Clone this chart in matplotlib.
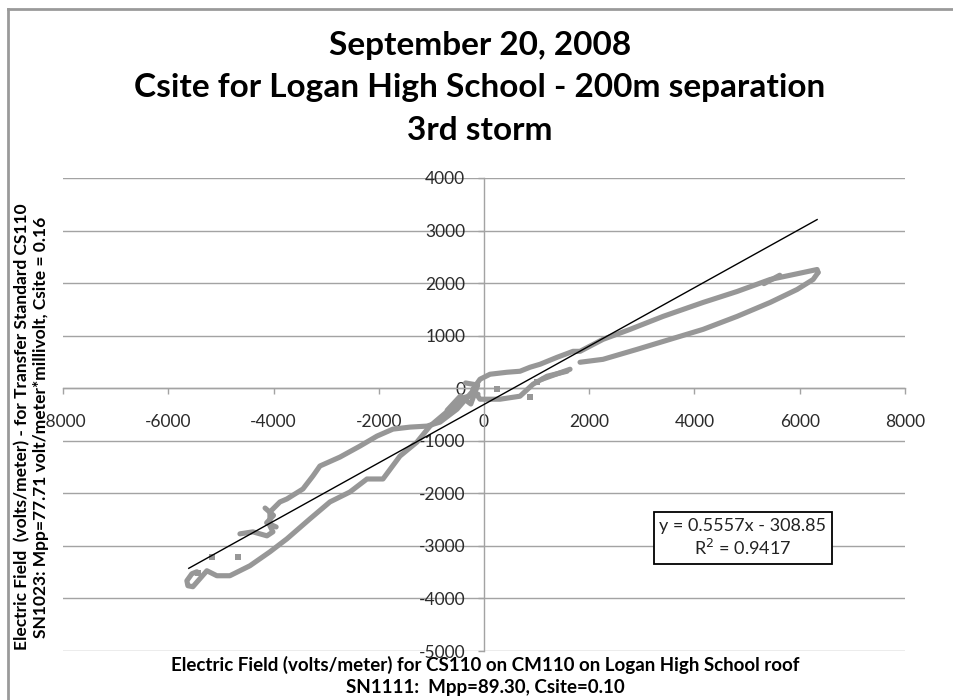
import matplotlib.pyplot as plt
from matplotlib.lines import Line2D
import numpy as np

plt.rcParams['font.family'] = ['Lato', 'DejaVu Sans']
plt.rcParams['axes.unicode_minus'] = False

# field samples, CS110 (x) against the transfer standard (y), in volts/meter.
# each run is a stretch of consecutive samples
upper_right_top = [(-209, -19), (-76, 171), (114, 266), (437, 304), (684, 323), (874, 399),
                   (1065, 456), (1388, 588), (1692, 702), (1825, 702), (2262, 930),
                   (2776, 1120), (3403, 1367), (4163, 1632), (4810, 1841), (5437, 2069),
                   (6064, 2202), (6330, 2259), (6349, 2202)]
upper_right_bottom = [(6349, 2202), (6254, 2069), (5950, 1879), (5437, 1632), (4810, 1367),
                      (4163, 1120), (3536, 930), (2909, 740), (2262, 550), (1825, 494)]
right_stub = [(5320, 1990), (5620, 2150)]
center_stub = [(1103, 171), (1350, 260), (1635, 361)]
center_lower = [(-209, -19), (-76, -209), (304, -209), (684, -152), (931, 76),
                (1198, 228), (1578, 323)]
left_upper = [(-133, 38), (-513, -399), (-836, -645), (-1084, -721), (-1407, -740),
              (-1730, -778), (-2034, -911), (-2357, -1101), (-2737, -1310), (-3118, -1480),
              (-3251, -1670), (-3441, -1917), (-3745, -2107), (-3878, -2164), (-4068, -2354),
              (-4068, -2619), (-4011, -2733), (-4125, -2809), (-4391, -2733), (-4638, -2771)]
left_cluster = [(-4160, -2280), (-4000, -2420), (-4130, -2560), (-3950, -2640)]
left_lower = [(-114, -114), (-361, -171), (-646, -399), (-1027, -721), (-1274, -1025),
              (-1597, -1291), (-1920, -1727), (-2224, -1727), (-2547, -1974), (-2928, -2164),
              (-3308, -2486), (-3745, -2866), (-4068, -3113), (-4448, -3378), (-4829, -3568),
              (-5076, -3568), (-5266, -3473), (-5399, -3625), (-5532, -3777), (-5627, -3758),
              (-5646, -3663), (-5551, -3530), (-5456, -3492)]
origin_cluster = [(-700, -420), (-450, -150), (-250, -300), (-120, 60), (-350, 100)]
loose_x = [-4676, -5171, -5437, 874, 247, 1008]
loose_y = [-3208, -3208, -3511, -171, -19, 114]

runs = [upper_right_top, upper_right_bottom, right_stub, center_stub, center_lower,
        left_upper, left_cluster, left_lower, origin_cluster]

# linear trend reported by the fit
slope = 0.5557
intercept = -308.85
r_squared = 0.9417
trend_x = np.array([-5610, 6330])

grey = '#979797'
axis_grey = '#a3a3a3'

fig = plt.figure(figsize=(9.54, 7.0), dpi=100)
W, H = 954, 700
ax = fig.add_axes([63 / W, 1 - 651 / H, (905 - 63) / W, (651 - 178) / H])

for run in runs:
    xs, ys = zip(*run)
    ax.plot(xs, ys, color=grey, lw=3.7, solid_capstyle='round',
            solid_joinstyle='round', zorder=3)
ax.scatter(loose_x, loose_y, marker='s', s=20, color=grey, lw=0, zorder=3)

ax.plot(trend_x, slope * trend_x + intercept, color='black', lw=1.0, zorder=4)

ax.set_xlim(-8000, 8000)
ax.set_ylim(-5000, 4000)
ax.set_xticks(np.arange(-8000, 8001, 2000))
ax.set_yticks(np.arange(-5000, 4001, 1000))
ax.yaxis.grid(True, color=axis_grey, lw=1.0)
ax.set_axisbelow(True)

for side in ['top', 'right']:
    ax.spines[side].set_visible(False)
ax.spines['left'].set_position(('data', 0))
ax.spines['bottom'].set_position(('data', 0))
for side in ['left', 'bottom']:
    ax.spines[side].set_color(axis_grey)
    ax.spines[side].set_linewidth(1.0)

ax.tick_params(axis='x', direction='out', length=4.5, width=1.0, color=axis_grey,
               pad=14, labelsize=12.5, labelcolor='#2b2b2b')
ax.tick_params(axis='y', direction='out', length=4.5, width=1.0, color=axis_grey,
               pad=9, labelsize=12.5, labelcolor='#2b2b2b')

# equation box
eq_x = (743 - 63) / (905 - 63)
ax.text(eq_x, 1 - (538 - 178) / (651 - 178),
        f'y = {slope}x - {abs(intercept)}\nR$^2$ = {r_squared}',
        transform=ax.transAxes, ha='center', va='center', fontsize=13,
        linespacing=1.25, color='#222222', zorder=6,
        bbox=dict(boxstyle='square,pad=0.3', fc='white', ec='black', lw=1.3))

# titles
title_lines = ['September 20, 2008', 'Csite for Logan High School - 200m separation', '3rd storm']
for i, line in enumerate(title_lines):
    fig.text(480 / W, 1 - (46 + 42 * i) / H, line, ha='center', va='center',
             fontsize=24, fontweight='bold', color='black')

fig.text(485 / W, 1 - 665 / H,
         'Electric Field (volts/meter) for CS110 on CM110 on Logan High School roof',
         ha='center', va='center', fontsize=13.5, fontweight='bold')
fig.text(485 / W, 1 - 688 / H, 'SN1111:  Mpp=89.30, Csite=0.10',
         ha='center', va='center', fontsize=13.5, fontweight='bold')
fig.text(22 / W, 1 - 427 / H,
         'Electric Field  (volts/meter) - for Transfer Standard CS110',
         ha='center', va='center', rotation=90, fontsize=12.5, fontweight='bold')
fig.text(41 / W, 1 - 427 / H,
         'SN1023: Mpp=77.71 volt/meter*millivolt, Csite = 0.16',
         ha='center', va='center', rotation=90, fontsize=12.5, fontweight='bold')

# chart frame
fig.add_artist(Line2D([8 / W, 1], [1 - 9 / H, 1 - 9 / H], color='#9a9a9a', lw=2.0))
fig.add_artist(Line2D([8 / W, 8 / W], [0, 1 - 9 / H], color='#9a9a9a', lw=2.0))

fig.savefig('out.png', dpi=100, facecolor='white')
